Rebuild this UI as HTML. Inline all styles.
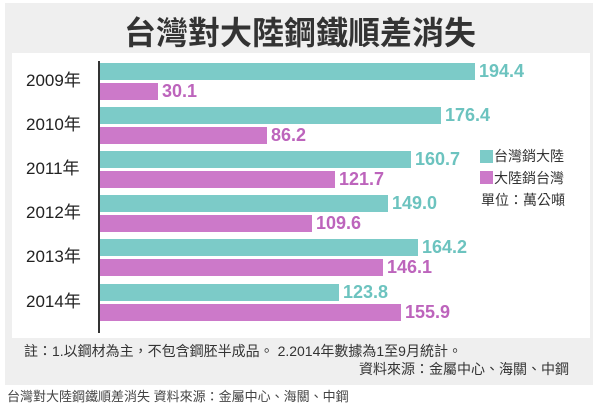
<!DOCTYPE html>
<html><head><meta charset="utf-8"><style>
body{margin:0;width:600px;height:416px;background:#fff;position:relative;overflow:hidden;font-family:"Liberation Sans","Noto Sans CJK TC",sans-serif}
.box{position:absolute;left:5px;top:3px;width:588px;height:382px;background:#efefef}
.panel{position:absolute;left:12px;top:53px;width:578px;height:285px;background:#fff}
.t{position:absolute;left:0;width:600px;top:8px;text-align:center;font-size:32px;font-weight:bold;color:#333;font-family:"Noto Sans CJK TC",sans-serif;letter-spacing:0px}
.axis{position:absolute;left:98px;top:61px;width:2px;height:272px;background:#333}
.bar{position:absolute;left:100px;height:17px}
.tq{background:#7ccbc8}.mg{background:#cc79c9}
.v{position:absolute;font-size:18px;font-weight:bold;line-height:17px}
.vt{color:#6cc3bf}.vm{color:#bd64bc}
.y{position:absolute;left:26px;font-size:17px;color:#222;line-height:20px}
.s{position:absolute;font-size:14px;color:#333;line-height:16px}
.sq{position:absolute;width:13px;height:13px}
</style></head><body>
<div class="box"></div><div class="panel"></div>
<div class="t">台灣對大陸鋼鐵順差消失</div>
<div class="axis"></div>

<div class="bar tq" style="top:63px;width:375px"></div><div class="v vt" style="left:479px;top:63px">194.4</div>
<div class="bar mg" style="top:83px;width:58px"></div><div class="v vm" style="left:162px;top:83px">30.1</div>
<div class="y" style="top:71px">2009年</div>

<div class="bar tq" style="top:107px;width:341px"></div><div class="v vt" style="left:445px;top:107px">176.4</div>
<div class="bar mg" style="top:127px;width:167px"></div><div class="v vm" style="left:271px;top:127px">86.2</div>
<div class="y" style="top:115px">2010年</div>

<div class="bar tq" style="top:151px;width:311px"></div><div class="v vt" style="left:415px;top:151px">160.7</div>
<div class="bar mg" style="top:171px;width:235px"></div><div class="v vm" style="left:339px;top:171px">121.7</div>
<div class="y" style="top:159px">2011年</div>

<div class="bar tq" style="top:195px;width:288px"></div><div class="v vt" style="left:392px;top:195px">149.0</div>
<div class="bar mg" style="top:215px;width:212px"></div><div class="v vm" style="left:316px;top:215px">109.6</div>
<div class="y" style="top:203px">2012年</div>

<div class="bar tq" style="top:239px;width:318px"></div><div class="v vt" style="left:422px;top:239px">164.2</div>
<div class="bar mg" style="top:259px;width:283px"></div><div class="v vm" style="left:387px;top:259px">146.1</div>
<div class="y" style="top:247px">2013年</div>

<div class="bar tq" style="top:284px;width:239px"></div><div class="v vt" style="left:343px;top:284px">123.8</div>
<div class="bar mg" style="top:304px;width:301px"></div><div class="v vm" style="left:405px;top:304px">155.9</div>
<div class="y" style="top:292px">2014年</div>

<div class="sq tq" style="left:480px;top:150px"></div><div class="s" style="left:494px;top:148px">台灣銷大陸</div>
<div class="sq mg" style="left:480px;top:171px"></div><div class="s" style="left:494px;top:170px">大陸銷台灣</div>
<div class="s" style="left:481px;top:192px">單位：萬公噸</div>

<div class="s" style="left:24px;top:343px;color:#333">註：1.以鋼材為主，不包含鋼胚半成品。 2.2014年數據為1至9月統計。</div>
<div class="s" style="left:359px;top:361px;color:#333">資料來源：金屬中心、海關、中鋼</div>
<div class="s" style="left:7px;top:389px;color:#444;font-size:13px">台灣對大陸鋼鐵順差消失 資料來源：金屬中心、海關、中鋼</div>
</body></html>
